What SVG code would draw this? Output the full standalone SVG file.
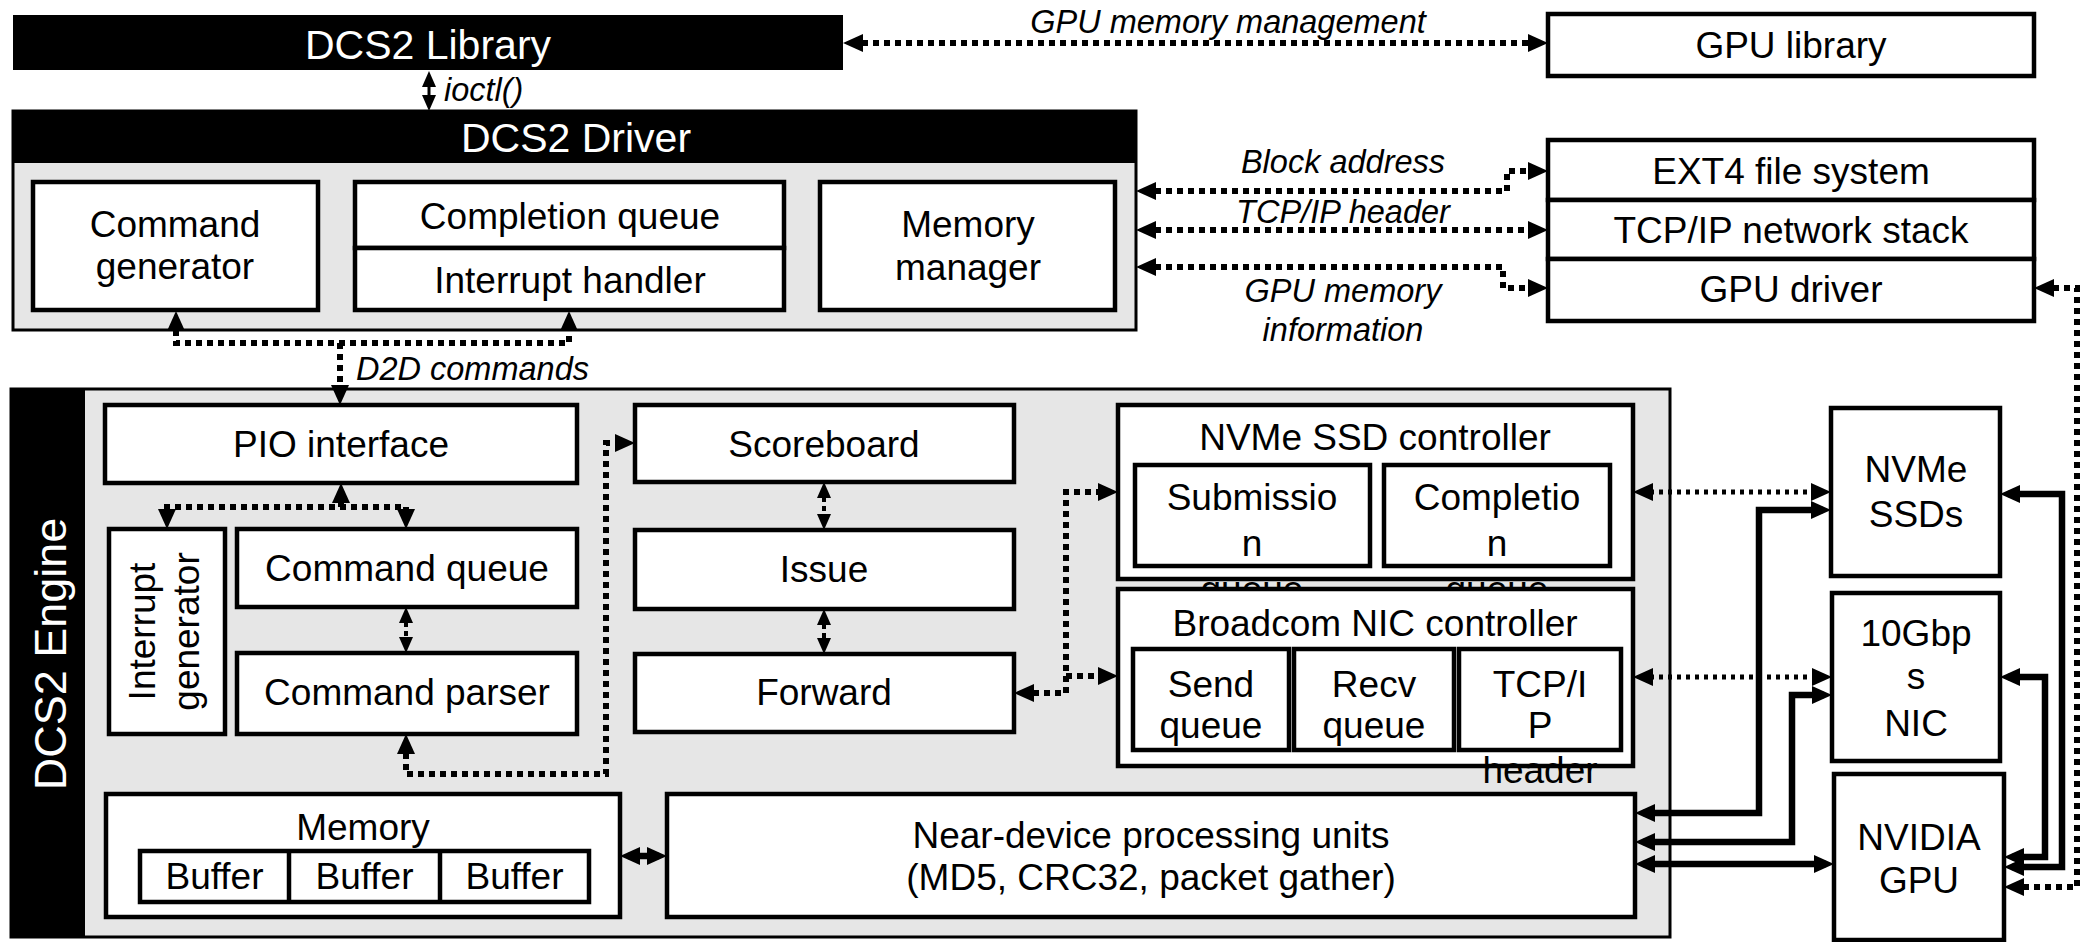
<svg xmlns="http://www.w3.org/2000/svg" width="2087" height="942" viewBox="0 0 2087 942">
<defs>
<style>
text{font-family:"Liberation Sans",Arial,sans-serif;fill:#000;text-anchor:middle}
.t{font-size:37px}
.tw{font-size:41px;fill:#fff}
.ti{font-size:32.5px;font-style:italic}
.box{fill:#fff;stroke:#000;stroke-width:4.5}
.blk{fill:#000}
.grey{fill:#e6e6e6;stroke:#000;stroke-width:3}
.dot{fill:none;stroke:#000;stroke-width:6;stroke-dasharray:6 5}
.dotf{fill:none;stroke:#000;stroke-width:5;stroke-dasharray:4 5}
.dots{fill:none;stroke:#000;stroke-width:4;stroke-dasharray:5 4}
.sol{fill:none;stroke:#000;stroke-width:6.5}
.thin{fill:none;stroke:#000;stroke-width:3}
</style>
<marker id="A" viewBox="0 0 20 18" refX="12" refY="9" markerWidth="20" markerHeight="18" markerUnits="userSpaceOnUse" orient="auto-start-reverse"><path d="M0 0L20 9L0 18z" fill="#000"/></marker>
<marker id="S" viewBox="0 0 16 14" refX="10" refY="7" markerWidth="16" markerHeight="14" markerUnits="userSpaceOnUse" orient="auto-start-reverse"><path d="M0 0L16 7L0 14z" fill="#000"/></marker>
</defs>

<g id="dcs2-library"><rect class="blk" x="13" y="15" width="830" height="55"/><text class="tw" x="428" y="59">DCS2 Library</text></g>
<g id="gpu-library"><rect class="box" x="1548" y="14" width="486" height="62"/><text class="t" x="1791" y="58">GPU library</text></g>

<g id="dcs2-driver"><rect class="grey" x="13" y="111" width="1123" height="219"/><rect class="blk" x="13" y="111" width="1123" height="52"/><text class="tw" x="576" y="152">DCS2 Driver</text></g>
<g id="command-generator"><rect class="box" x="33" y="182" width="285" height="128"/><text class="t" x="175" y="237">Command</text><text class="t" x="175" y="279">generator</text></g>
<g id="completion-queue"><rect class="box" x="355" y="182" width="429" height="66"/><text class="t" x="570" y="229">Completion queue</text></g>
<g id="interrupt-handler"><rect class="box" x="355" y="248" width="429" height="62"/><text class="t" x="570" y="293">Interrupt handler</text></g>
<g id="memory-manager"><rect class="box" x="820" y="182" width="295" height="128"/><text class="t" x="968" y="237">Memory</text><text class="t" x="968" y="280">manager</text></g>

<g id="ext4"><rect class="box" x="1548" y="140" width="486" height="60"/><text class="t" x="1791" y="184">EXT4 file system</text></g>
<g id="tcpip-stack"><rect class="box" x="1548" y="200" width="486" height="59"/><text class="t" x="1791" y="243">TCP/IP network stack</text></g>
<g id="gpu-driver"><rect class="box" x="1548" y="259" width="486" height="62"/><text class="t" x="1791" y="302">GPU driver</text></g>

<g id="dcs2-engine"><rect class="grey" x="11" y="389" width="1659" height="548"/><rect class="blk" x="11" y="389" width="74" height="548"/><text class="tw" style="font-size:45px" transform="translate(66 654) rotate(-90)">DCS2 Engine</text></g>
<g id="pio-interface"><rect class="box" x="105" y="405" width="472" height="78"/><text class="t" x="341" y="457">PIO interface</text></g>
<g id="interrupt-generator"><rect class="box" x="109" y="529" width="116" height="205"/><text class="t" transform="translate(155 631.5) rotate(-90)">Interrupt</text><text class="t" transform="translate(199 631.5) rotate(-90)">generator</text></g>
<g id="command-queue"><rect class="box" x="237" y="529" width="340" height="78"/><text class="t" x="407" y="581">Command queue</text></g>
<g id="command-parser"><rect class="box" x="237" y="653" width="340" height="81"/><text class="t" x="407" y="705">Command parser</text></g>
<g id="scoreboard"><rect class="box" x="635" y="405" width="379" height="77"/><text class="t" x="824" y="457">Scoreboard</text></g>
<g id="issue"><rect class="box" x="635" y="530" width="379" height="79"/><text class="t" x="824" y="582">Issue</text></g>
<g id="forward"><rect class="box" x="635" y="654" width="379" height="78"/><text class="t" x="824" y="705">Forward</text></g>

<g id="nvme-ssd-controller"><rect class="box" x="1118" y="405" width="515" height="174"/><text class="t" x="1375" y="450">NVMe SSD controller</text>
<rect class="box" x="1135" y="465" width="235" height="101"/><text class="t" x="1252" y="510">Submissio</text><text class="t" x="1252" y="556">n</text><text class="t" x="1252" y="602">queue</text>
<rect class="box" x="1384" y="465" width="226" height="101"/><text class="t" x="1497" y="510">Completio</text><text class="t" x="1497" y="556">n</text><text class="t" x="1497" y="602">queue</text></g>

<g id="broadcom-nic-controller"><rect class="box" x="1118" y="589" width="515" height="177"/><text class="t" x="1375" y="636">Broadcom NIC controller</text>
<rect class="box" x="1133" y="649" width="156" height="101"/><text class="t" x="1211" y="697">Send</text><text class="t" x="1211" y="738">queue</text>
<rect class="box" x="1294" y="649" width="160" height="101"/><text class="t" x="1374" y="697">Recv</text><text class="t" x="1374" y="738">queue</text>
<rect class="box" x="1459" y="649" width="162" height="101"/><text class="t" x="1540" y="697">TCP/I</text><text class="t" x="1540" y="738">P</text><text class="t" x="1540" y="783">header</text></g>

<g id="memory"><rect class="box" x="106" y="794" width="514" height="123"/><text class="t" x="363" y="840">Memory</text>
<rect class="box" x="140" y="851" width="449" height="51"/><line x1="289" y1="851" x2="289" y2="902" stroke="#000" stroke-width="4.5"/><line x1="440" y1="851" x2="440" y2="902" stroke="#000" stroke-width="4.5"/>
<text class="t" x="214.5" y="889">Buffer</text><text class="t" x="364.5" y="889">Buffer</text><text class="t" x="514.5" y="889">Buffer</text></g>
<g id="near-device-processing"><rect class="box" x="667" y="794" width="968" height="123"/><text class="t" x="1151" y="848">Near-device processing units</text><text class="t" x="1151" y="890">(MD5, CRC32, packet gather)</text></g>

<g id="nvme-ssds"><rect class="box" x="1831" y="408" width="169" height="168"/><text class="t" x="1916" y="482">NVMe</text><text class="t" x="1916" y="527">SSDs</text></g>
<g id="nic-10g"><rect class="box" x="1832" y="593" width="168" height="168"/><text class="t" x="1916" y="646">10Gbp</text><text class="t" x="1916" y="689">s</text><text class="t" x="1916" y="736">NIC</text></g>
<g id="nvidia-gpu"><rect class="box" x="1834" y="774" width="170" height="166"/><text class="t" x="1919" y="850">NVIDIA</text><text class="t" x="1919" y="893">GPU</text></g>

<g id="connectors">
<path class="thin" d="M429 77V105" marker-start="url(#S)" marker-end="url(#S)"/>
<text class="ti" x="444" y="101" style="text-anchor:start">ioctl()</text>
<path class="dot" d="M851 43H1540" marker-start="url(#A)" marker-end="url(#A)"/>
<text class="ti" x="1228" y="33">GPU memory management</text>
<path class="dot" d="M1144 191H1507V171H1540" marker-start="url(#A)" marker-end="url(#A)"/>
<text class="ti" x="1343" y="173">Block address</text>
<path class="dot" d="M1144 230H1540" marker-start="url(#A)" marker-end="url(#A)"/>
<text class="ti" x="1343" y="223">TCP/IP header</text>
<path class="dot" d="M1144 267H1503V288H1540" marker-start="url(#A)" marker-end="url(#A)"/>
<text class="ti" x="1343" y="302">GPU memory</text>
<text class="ti" x="1343" y="341">information</text>
<path class="dot" d="M176 319V343H569V319" marker-start="url(#A)" marker-end="url(#A)"/>
<path class="dot" d="M340 343V397" marker-end="url(#A)"/>
<text class="ti" x="356" y="380" style="text-anchor:start">D2D commands</text>
<path class="dot" d="M341 507V491" marker-end="url(#A)"/>
<path class="dot" d="M167 521V507H406V521" marker-start="url(#A)" marker-end="url(#A)"/>
<path class="dots" d="M406 613V647" marker-start="url(#S)" marker-end="url(#S)"/>
<path class="dot" d="M406 742V774H606V443H627" marker-start="url(#A)" marker-end="url(#A)"/>
<path class="dots" d="M824 488V524" marker-start="url(#S)" marker-end="url(#S)"/>
<path class="dots" d="M824 615V648" marker-start="url(#S)" marker-end="url(#S)"/>
<path class="dot" d="M1022 693H1066V492H1110" marker-start="url(#A)" marker-end="url(#A)"/>
<path class="dot" d="M1066 676H1110" marker-end="url(#A)"/>
<path class="dotf" d="M1641 492H1823" marker-start="url(#A)" marker-end="url(#A)"/>
<path class="dotf" d="M1641 677H1824" marker-start="url(#A)" marker-end="url(#A)"/>
<path class="sol" d="M628 856H659" marker-start="url(#A)" marker-end="url(#A)"/>
<path class="sol" d="M1643 813H1759V510H1823" marker-start="url(#A)" marker-end="url(#A)"/>
<path class="sol" d="M1643 842H1792V695H1824" marker-start="url(#A)" marker-end="url(#A)"/>
<path class="sol" d="M1643 864H1826" marker-start="url(#A)" marker-end="url(#A)"/>
<path class="sol" d="M2008 494H2062V867H2012" marker-start="url(#A)" marker-end="url(#A)"/>
<path class="sol" d="M2008 677H2045V857H2012" marker-start="url(#A)" marker-end="url(#A)"/>
<path class="dot" d="M2042 288H2077V887H2012" marker-start="url(#A)" marker-end="url(#A)"/>
</g>
</svg>
